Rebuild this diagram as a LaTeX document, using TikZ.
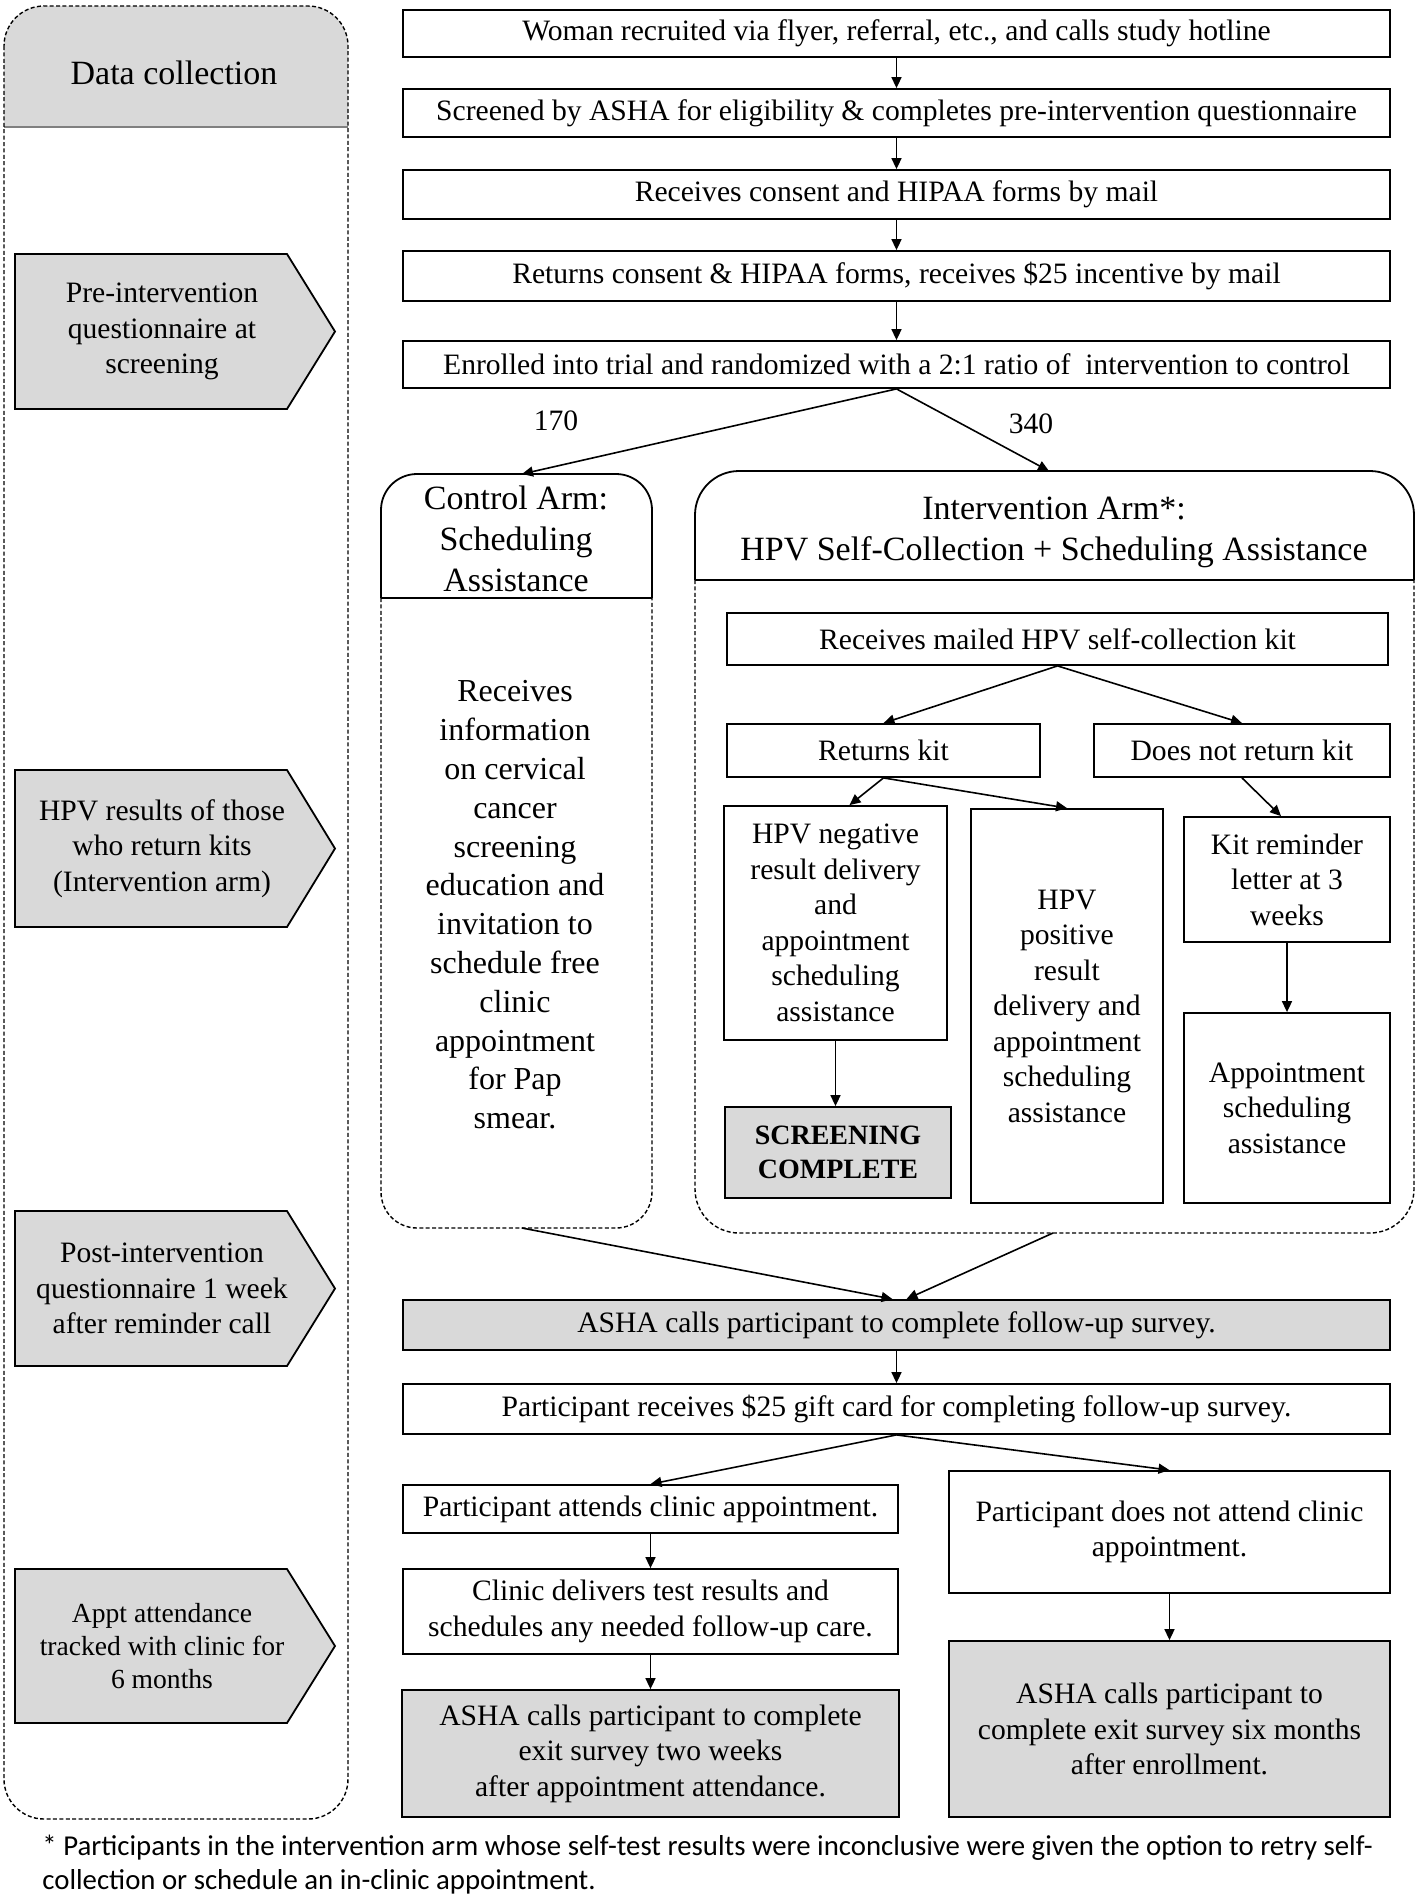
\documentclass[tikz,border=0pt]{standalone}
\usepackage{fontspec}
\setmainfont{Liberation Serif}
\newfontfamily\notefont{Carlito}
\usetikzlibrary{arrows.meta}

\begin{document}
\begin{tikzpicture}[x=0.5pt, y=-0.5pt,
  box/.style={draw, line width=0.9pt, fill=white, inner sep=0pt, align=center,
              font=\fontsize{14.8}{17.75}\selectfont},
  shaded/.style={fill=boxgray},
  arr/.style={-{Triangle[length=5.5pt,width=5pt]}, line width=0.8pt},
  dashline/.style={dash pattern=on 2pt off 1.2pt, line width=0.7pt},
  stage/.style={draw, line width=0.9pt, fill=boxgray},
  stagetext/.style={align=center, inner sep=0pt},
  headtext/.style={align=center, inner sep=0pt, font=\fontsize{17}{20.5}\selectfont},
  plaintext/.style={inner sep=0pt, font=\fontsize{14.8}{17.75}\selectfont}]

%─────────────
% Controls
%─────────────
\definecolor{boxgray}{RGB}{217,217,217}  % shading of the highlighted boxes
\useasboundingbox (0,0) rectangle (1418,1896);

%─────────────────────────────────────────────────────────────
% Box given by its corners (in pixels of the page):
%   [extra style] {name} {x1}{y1}{x2}{y2} {text}
%─────────────────────────────────────────────────────────────
\newcommand{\flowbox}[7][]{%
  \pgfmathsetmacro{\boxX}{(#3+#5)/2}%
  \pgfmathsetmacro{\boxY}{(#4+#6)/2}%
  \pgfmathsetmacro{\boxW}{(#5-#3)/2}%
  \pgfmathsetmacro{\boxH}{(#6-#4)/2}%
  \node[box, minimum width=\boxW pt, minimum height=\boxH pt, #1] (#2) at (\boxX,\boxY) {#7};%
}

%─────────────────────────────────────────────────────────────
% Grey pointer label of the data collection column:
%   {name} {top}{bottom} {text} {font size}
%─────────────────────────────────────────────────────────────
\newcommand{\stageLabel}[5]{%
  \pgfmathsetmacro{\midY}{(#2+#3)/2}%
  \pgfmathsetmacro{\lineSkip}{1.2*#5}%
  \draw[stage] (15,#2) -- (287,#2) -- (335,\midY) -- (287,#3) -- (15,#3) -- cycle;
  \node[stagetext, font=\fontsize{#5}{\lineSkip}\selectfont] (#1) at (162,\midY) {#4};%
}

%─────────────
% Data collection column
%─────────────
\begin{scope}
  \clip (0,0) rectangle (1418,127);
  \fill[boxgray, rounded corners=20pt] (4,6) rectangle (348,400);
\end{scope}
\draw[gray, line width=0.9pt] (4,127) -- (348,127);
\draw[dashline, rounded corners=20pt] (4,6) rectangle (348,1819);
\node[headtext] (datahead) at (174,73) {Data collection};

\stageLabel{pre}{254}{409}{Pre-intervention\\questionnaire at\\screening}{14.8}
\stageLabel{hpvres}{770}{927}{HPV results of those\\who return kits\\(Intervention arm)}{14.8}
\stageLabel{post}{1211}{1366}{Post-intervention\\questionnaire 1 week\\after reminder call}{14.8}
\stageLabel{track}{1569}{1723}{Appt attendance\\tracked with clinic for\\6 months}{13.8}

%─────────────
% Enrolment chain
%─────────────
\flowbox{recruit}{403}{10}{1390}{57}{Woman recruited via flyer, referral, etc., and calls study hotline}
\flowbox{screen}{403}{89}{1390}{137}{Screened by ASHA for eligibility \& completes pre-intervention questionnaire}
\flowbox{forms}{403}{170}{1390}{219}{Receives consent and HIPAA forms by mail}
\flowbox{back}{403}{251}{1390}{301}{Returns consent \& HIPAA forms, receives \$25 incentive by mail}
\flowbox{enrol}{403}{341}{1390}{388}{Enrolled into trial and randomized with a 2:1 ratio of\ \ intervention to control}

\draw[arr] (recruit) -- (screen);
\draw[arr] (screen) -- (forms);
\draw[arr] (forms) -- (back);
\draw[arr] (back) -- (enrol);

%─────────────
% Control arm
%─────────────
\draw[line width=0.9pt, rounded corners=18pt] (381,598) -- (381,474) -- (652,474) -- (652,598);
\draw[line width=0.9pt] (381,598) -- (652,598);
\draw[dashline, rounded corners=18pt] (381,598) -- (381,1228) -- (652,1228) -- (652,598);
\node[headtext] (ctrlhead) at (516,539) {Control Arm:\\Scheduling\\Assistance};
\node[headtext, font=\fontsize{16}{19.4}\selectfont] (ctrlbody) at (515,905)
  {Receives\\information\\on cervical\\cancer\\screening\\education and\\invitation to\\schedule free\\clinic\\appointment\\for Pap\\smear.};
\coordinate (ctrlIn) at (522,474);
\coordinate (ctrlOut) at (522,1228);

%─────────────
% Intervention arm
%─────────────
\draw[line width=0.9pt, rounded corners=22pt] (695,580) -- (695,471) -- (1414,471) -- (1414,580);
\draw[line width=0.9pt] (695,580) -- (1414,580);
\draw[dashline, rounded corners=22pt] (695,580) -- (695,1233) -- (1414,1233) -- (1414,580);
\node[headtext] (inthead) at (1054,532) {Intervention Arm*:\\HPV Self-Collection + Scheduling Assistance};
\coordinate (intIn) at (1049,471);
\coordinate (intOut) at (1053,1233);

\flowbox{kit}{727}{613}{1388}{665}{Receives mailed HPV self-collection kit}
\flowbox{ret}{727}{724}{1040}{777}{Returns kit}
\flowbox{noret}{1094}{724}{1390}{777}{Does not return kit}
\flowbox{neg}{724}{806}{947}{1040}{HPV negative\\result delivery\\and\\appointment\\scheduling\\assistance}
\flowbox{pos}{971}{809}{1163}{1203}{HPV\\positive\\result\\delivery and\\appointment\\scheduling\\assistance}
\flowbox{remind}{1184}{817}{1390}{942}{Kit reminder\\letter at 3\\weeks}
\flowbox{assist}{1184}{1013}{1390}{1203}{Appointment\\scheduling\\assistance}
\flowbox[shaded, font=\fontsize{14}{17}\selectfont\bfseries]{done}{725}{1107}{951}{1198}{SCREENING\\COMPLETE}

\draw[arr] (kit.south) -- (ret.north);
\draw[arr] (kit.south) -- (noret.north);
\draw[arr] (ret.south) -- ([xshift=7pt]neg.north);
\draw[arr] (ret.south) -- (pos.north);
\draw[arr] (noret.south) -- ([xshift=-3pt]remind.north);
\draw[arr] (remind) -- (assist);
\draw[arr] (neg.south) -- (neg.south |- done.north);

%─────────────
% Randomisation split
%─────────────
\draw[arr] (enrol.south) -- (ctrlIn);
\draw[arr] (enrol.south) -- (intIn);
\node[plaintext] (n170) at (556,421) {170};
\node[plaintext] (n340) at (1031,424) {340};

%─────────────
% Follow-up and exit
%─────────────
\flowbox[shaded]{follow}{403}{1300}{1390}{1350}{ASHA calls participant to complete follow-up survey.}
\flowbox{gift}{403}{1384}{1390}{1434}{Participant receives \$25 gift card for completing follow-up survey.}
\flowbox{attend}{403}{1485}{898}{1533}{Participant attends clinic appointment.}
\flowbox{noattend}{949}{1471}{1390}{1593}{Participant does not attend clinic\\appointment.}
\flowbox{clinic}{403}{1569}{898}{1654}{Clinic delivers test results and\\schedules any needed follow-up care.}
\flowbox[shaded]{exitA}{402}{1690}{899}{1817}{ASHA calls participant to complete\\exit survey two weeks\\after appointment attendance.}
\flowbox[shaded]{exitB}{949}{1641}{1390}{1817}{ASHA calls participant to\\complete exit survey six months\\after enrollment.}

\draw[arr] (ctrlOut) -- ([xshift=-2pt]follow.north);
\draw[arr] (intOut) -- ([xshift=5pt]follow.north);
\draw[arr] (follow) -- (gift);
\draw[arr] (gift.south) -- (attend.north);
\draw[arr] (gift.south) -- (noattend.north);
\draw[arr] (attend) -- (clinic);
\draw[arr] (clinic) -- (exitA);
\draw[arr] (noattend) -- (exitB);

%─────────────
% Footnote
%─────────────
\node[anchor=west, align=left, inner sep=0pt, font=\notefont\fontsize{14.4}{17}\selectfont] (note) at (42,1865)
  {* Participants in the intervention arm whose self-test results were inconclusive were given the option to retry self-\\collection or schedule an in-clinic appointment.};

\end{tikzpicture}
\end{document}
